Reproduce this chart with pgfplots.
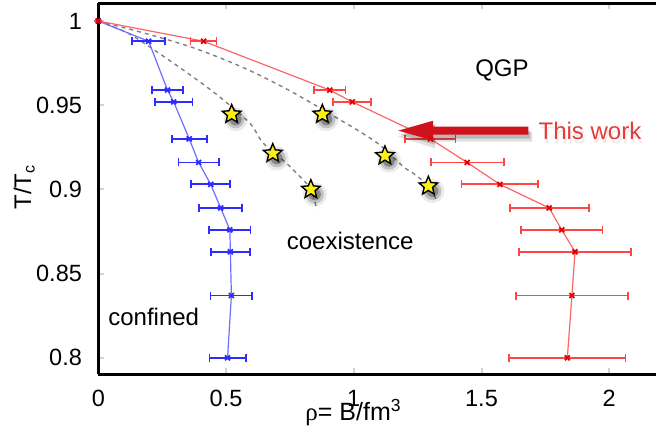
\documentclass[border=0pt]{standalone}
\usepackage{fontspec}
\setmainfont{Liberation Sans}
\newfontfamily\serifgr{Liberation Serif}
\usepackage{pgfplots}
\pgfplotsset{compat=1.18}

\definecolor{bluebar}{RGB}{45,45,255}
\definecolor{blueline}{RGB}{110,110,255}
\definecolor{redbar}{RGB}{255,70,70}
\definecolor{redline}{RGB}{255,100,100}
\definecolor{arrowred}{RGB}{208,18,28}
\definecolor{textred}{RGB}{228,60,60}
\definecolor{staryellow}{RGB}{250,240,20}

% filled five-pointed star
\pgfdeclareplotmark{fstar}{%
  \pgfpathmoveto{\pgfpointpolar{90}{\pgfplotmarksize}}%
  \pgfpathlineto{\pgfpointpolar{126}{0.45\pgfplotmarksize}}%
  \pgfpathlineto{\pgfpointpolar{162}{\pgfplotmarksize}}%
  \pgfpathlineto{\pgfpointpolar{198}{0.45\pgfplotmarksize}}%
  \pgfpathlineto{\pgfpointpolar{234}{\pgfplotmarksize}}%
  \pgfpathlineto{\pgfpointpolar{270}{0.45\pgfplotmarksize}}%
  \pgfpathlineto{\pgfpointpolar{306}{\pgfplotmarksize}}%
  \pgfpathlineto{\pgfpointpolar{342}{0.45\pgfplotmarksize}}%
  \pgfpathlineto{\pgfpointpolar{18}{\pgfplotmarksize}}%
  \pgfpathlineto{\pgfpointpolar{54}{0.45\pgfplotmarksize}}%
  \pgfpathclose
  \pgfusepathqfillstroke}

\begin{document}
\begin{tikzpicture}
\begin{axis}[
    scale only axis,
    width=280.5pt, height=185.5pt,
    xmin=0, xmax=2.196,
    ymin=0.7904, ymax=1.0107,
    xtick={0,0.5,1,1.5,2},
    ytick={0.8,0.85,0.9,0.95,1},
    /pgf/number format/assume math mode=true,
    ticklabel style={font=\fontsize{11.75}{13}\selectfont},
    xticklabel style={anchor=north, inner sep=0pt, yshift=-8pt},
    yticklabel style={anchor=east, inner sep=0pt, xshift=-8pt},
    axis x line*=box,
    axis y line*=left,
    axis line style={line width=1.5pt, black},
    tick style={gray!35, line width=1pt},
    major tick length=3pt,
    xlabel={{\serifgr ρ}= B/fm\textsuperscript{3}},
    xlabel style={at={(rel axis cs:0.455,-0.124)}, anchor=base, font=\fontsize{12.5}{14}\selectfont},
    ylabel={T/T\textsubscript{c}},
    ylabel style={at={(rel axis cs:-0.132,0.504)}, anchor=center, font=\fontsize{12}{13}\selectfont},
    clip=false,
]
% dotted guide curves through the star points
\addplot[gray, line width=0.7pt, dash pattern=on 2pt off 2pt, smooth] coordinates {
    (0,1) (0.117,0.9927) (0.248,0.9798) (0.378,0.966) (0.483,0.954)
    (0.594,0.9392) (0.646,0.9274) (0.737,0.9155) (0.776,0.9096)
    (0.832,0.9002) (0.855,0.8878)
};
\addplot[gray, line width=0.7pt, dash pattern=on 2pt off 2pt, smooth] coordinates {
    (0,1) (0.183,0.9927) (0.378,0.9838) (0.574,0.9719) (0.757,0.958)
    (0.959,0.9402) (1.024,0.9343) (1.102,0.9264) (1.194,0.9135)
    (1.233,0.9096) (1.292,0.902) (1.327,0.8927)
};

% confined boundary (blue)
\addplot[blueline, line width=0.6pt, mark=x, mark size=1.75pt,
    mark options={bluebar, line width=0.9pt},
    error bars/.cd, x dir=both, x explicit,
    error bar style={bluebar, line width=0.9pt},
    error mark options={rotate=90, mark size=2pt, bluebar, line width=0.9pt}]
    coordinates {
    (0,1) +- (0,0)
    (0.197,0.988) +- (0.065,0)
    (0.271,0.959) +- (0.060,0)
    (0.295,0.952) +- (0.074,0)
    (0.356,0.930) +- (0.069,0)
    (0.393,0.916) +- (0.079,0)
    (0.440,0.903) +- (0.076,0)
    (0.479,0.889) +- (0.085,0)
    (0.515,0.876) +- (0.081,0)
    (0.517,0.863) +- (0.077,0)
    (0.521,0.837) +- (0.082,0)
    (0.506,0.800) +- (0.071,0)
};

% deconfined boundary (red)
\addplot[redline, line width=0.6pt, mark=x, mark size=1.75pt,
    mark options={red!90!black, line width=0.9pt},
    error bars/.cd, x dir=both, x explicit,
    error bar style={redbar, line width=0.9pt},
    error mark options={rotate=90, mark size=2pt, redbar, line width=0.9pt}]
    coordinates {
    (0,1) +- (0,0)
    (0.412,0.988) +- (0.051,0)
    (0.906,0.959) +- (0.062,0)
    (0.994,0.952) +- (0.075,0)
    (1.300,0.930) +- (0.098,0)
    (1.444,0.916) +- (0.143,0)
    (1.572,0.903) +- (0.150,0)
    (1.765,0.889) +- (0.155,0)
    (1.814,0.876) +- (0.160,0)
    (1.866,0.863) +- (0.219,0)
    (1.854,0.837) +- (0.220,0)
    (1.836,0.800) +- (0.228,0)
};

% star shadows
\addplot[only marks, mark=*, mark size=6pt, mark options={black, draw opacity=0, fill opacity=0.08, xshift=2pt, yshift=-2.5pt}]
    coordinates {(0.522,0.9446) (0.683,0.9214) (0.832,0.900) (0.877,0.9446) (1.122,0.920) (1.292,0.902)};
\addplot[only marks, mark=*, mark size=4.5pt, mark options={black, draw opacity=0, fill opacity=0.18, xshift=2pt, yshift=-2.5pt}]
    coordinates {(0.522,0.9446) (0.683,0.9214) (0.832,0.900) (0.877,0.9446) (1.122,0.920) (1.292,0.902)};
\addplot[only marks, mark=*, mark size=3pt, mark options={black, draw opacity=0, fill opacity=0.3, xshift=2pt, yshift=-2.5pt}]
    coordinates {(0.522,0.9446) (0.683,0.9214) (0.832,0.900) (0.877,0.9446) (1.122,0.920) (1.292,0.902)};
% stars
\addplot[only marks, mark=fstar, mark size=4.9pt, mark options={fill=staryellow, draw=black, line width=0.7pt}]
    coordinates {(0.522,0.9446) (0.683,0.9214) (0.832,0.900) (0.877,0.9446) (1.122,0.920) (1.292,0.902)};

% arrow with soft shadow
\fill[black, opacity=0.12, xshift=1pt, yshift=-3pt]
    (axis cs:1.690,0.9378) -- (axis cs:1.311,0.9378) -- (axis cs:1.311,0.9418)
    -- (axis cs:1.165,0.9349) -- (axis cs:1.311,0.9280) -- (axis cs:1.311,0.9320)
    -- (axis cs:1.690,0.9320) -- cycle;
\fill[black, opacity=0.18, xshift=1pt, yshift=-2pt]
    (axis cs:1.683,0.9373) -- (axis cs:1.311,0.9373) -- (axis cs:1.311,0.9408)
    -- (axis cs:1.174,0.9349) -- (axis cs:1.311,0.9290) -- (axis cs:1.311,0.9325)
    -- (axis cs:1.683,0.9325) -- cycle;
\fill[arrowred]
    (axis cs:1.683,0.9373) -- (axis cs:1.311,0.9373) -- (axis cs:1.311,0.9408)
    -- (axis cs:1.174,0.9349) -- (axis cs:1.311,0.9290) -- (axis cs:1.311,0.9325)
    -- (axis cs:1.683,0.9325) -- cycle;

% region labels
\node[font=\fontsize{12}{14}\selectfont] at (axis cs:1.58,0.9709) {QGP};
\node[font=\fontsize{12}{14}\selectfont] at (axis cs:0.986,0.8694) {coexistence};
\node[font=\fontsize{12}{14}\selectfont] at (axis cs:0.217,0.8244) {confined};
\node[font=\fontsize{12}{14}\selectfont, text=black, opacity=0.08, anchor=west, inner sep=0pt, xshift=0.8pt, yshift=-2.2pt] at (axis cs:1.722,0.9347) {This work};
\node[font=\fontsize{12}{14}\selectfont, text=textred, anchor=west, inner sep=0pt] at (axis cs:1.722,0.9347) {This work};
\end{axis}
\pgfresetboundingbox
\path ([shift={(-49.15pt,-31pt)}]current axis.south west) rectangle ([shift={(278.85pt,187pt)}]current axis.south west);
\end{tikzpicture}
\end{document}
